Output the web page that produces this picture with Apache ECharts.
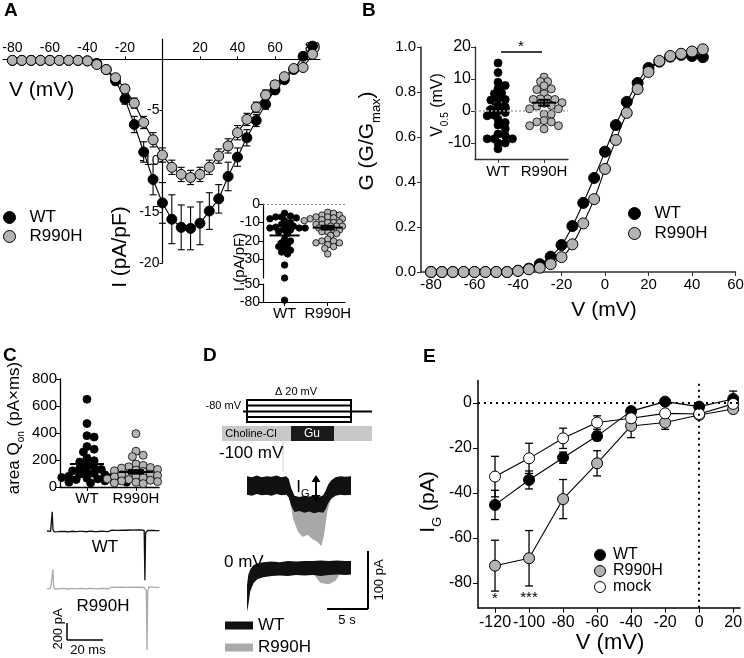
<!DOCTYPE html>
<html><head><meta charset="utf-8">
<script src="https://cdn.jsdelivr.net/npm/echarts@6/dist/echarts.min.js"></script>
<style>html,body{margin:0;padding:0;background:#fff}#c{width:744px;height:658px}</style>
</head><body><div id="c"></div>
<script>
// ---------------- DATA ----------------
// Panel A: I-V curves (pA/pF)
const vA = [-80,-75,-70,-65,-60,-55,-50,-45,-40,-35,-30,-25,-20,-15,-10,-5,0,5,10,15,20,25,30,35,40,45,50,55,60,65,70,75,80];
const iWT_A = [-0.1,-0.1,-0.1,-0.1,-0.1,-0.1,-0.1,-0.1,-0.15,-0.4,-1.0,-2.1,-3.9,-6.4,-9.1,-11.8,-14.1,-15.7,-16.5,-16.6,-16.1,-14.9,-13.7,-11.5,-9.6,-7.7,-6.0,-4.4,-3.0,-2.0,-1.0,0.3,1.3];
const eWT_A = [0.05,0.05,0.05,0.05,0.05,0.05,0.05,0.05,0.1,0.15,0.3,0.4,0.5,0.8,1.0,1.5,2.0,2.4,2.2,2.1,2.1,1.8,1.4,1.4,0.9,0.8,0.6,0.5,0.4,0.3,0.3,0.3,0.3];
const iR_A = [-0.1,-0.1,-0.1,-0.1,-0.1,-0.1,-0.1,-0.1,-0.15,-0.5,-1.0,-1.8,-2.9,-4.3,-6.2,-7.9,-9.4,-10.6,-11.3,-11.6,-11.3,-10.6,-9.5,-8.5,-7.2,-5.9,-4.7,-3.5,-2.5,-1.7,-0.9,-0.8,0.5];
const eR_A = [0.05,0.05,0.05,0.05,0.05,0.05,0.05,0.05,0.1,0.15,0.2,0.3,0.4,0.5,0.6,0.7,0.7,0.7,0.7,0.7,0.7,0.7,0.7,0.7,0.7,0.6,0.5,0.5,0.4,0.3,0.3,0.3,0.3];
// Panel A inset: peak current density per cell
const insWT_A = [-5,-6.5,-7,-7,-7.5,-8,-9,-10,-11,-12,-12,-12.5,-13,-13,-13,-14,-14,-15,-16,-19,-20,-21,-22,-23,-24,-25,-26,-27,-33,-40,-77];
const insR_A = [-4.5,-5,-6,-6,-7,-7,-7.5,-8,-8,-8.5,-9,-9,-10,-10,-10,-11,-11,-12,-12,-12,-13,-13,-14,-14,-15,-15,-16,-17,-19,-20,-20,-21,-21,-22,-23,-24,-27];
const insMean_A = [-17,-12.8];
const insSem_A = [3.5,1.0];
const groups = ['WT','R990H'];

// Panel B: conductance
const vB = [-80,-75,-70,-65,-60,-55,-50,-45,-40,-35,-30,-25,-20,-15,-10,-5,0,5,10,15,20,25,30,35,40,45];
const gWT_B = [0,0,0,0,0,0,0,0,0.006,0.015,0.035,0.068,0.12,0.204,0.307,0.418,0.535,0.653,0.756,0.84,0.907,0.935,0.957,0.965,0.96,0.955];
const gR_B = [0,0,0,0,0,0,0,0,0.005,0.012,0.019,0.035,0.066,0.123,0.216,0.324,0.458,0.587,0.707,0.813,0.889,0.938,0.96,0.97,0.98,0.99];
// Panel B inset: V0.5
const v05WT = [15,12,9,8,7,5.6,5.4,3.8,3.6,3.4,1.7,1.3,0.5,0,-0.5,-1.3,-1.5,-2.6,-3.6,-4.4,-5.6,-7.2,-7.7,-8.7,-8.7,-8.7,-10,-10,-11.8];
const v05R = [10.6,9.2,9.2,7.9,6.9,6.7,5.4,3.8,3.8,3.6,3.6,2.6,2.4,1.7,1.5,0.7,0.7,-1,-1,-3,-3.4,-3.4,-4.6,-4.6,-5.6];
const v05Mean = [0.8,2.6];
const v05Sem = [1.3,0.9];

// Panel C: gating charge area
const qWT = [650,470,380,370,300,280,260,215,195,185,160,150,140,130,120,110,100,95,90,80,75,70,65,60,55,50,45,40,35,35,30];
const qR = [395,265,235,225,170,160,150,145,140,130,125,120,115,110,100,95,90,85,80,75,70,65,60,55,50,45,40,35,30,25];
const qMean = [170,112];
const qSem = [26,13];
// Panel C traces (t ms, pA)
const traceWT_C = [[0,0],[1,5],[2,-5],[2.6,10],[2.9,225],[3.3,20],[4,-10],[5,5],[6,-8],[7,6],[8,-4],[9,8],[10,-6],[11,3],[12,-10],[13,6],[14,-3],[15,7],[16,-8],[17,4],[18,-5],[19,9],[20,-4],[21,6],[22,-9],[23,3],[24,-2],[25,8],[26,-6],[27,5],[28,-7],[29,4],[30,-3],[31,9],[32,-5],[33,6],[34,-8],[35,2],[36,10],[37,-4],[38,7],[39,-6],[40,8],[41,-2],[42,11],[43,-3],[44,9],[45,-1],[46,12],[47,3],[48,10],[49,-2],[50,14],[51,6],[52,12],[53,4],[54,8],[54.4,-580],[54.8,-20],[55.3,-10],[56,6],[57,-4],[58,8],[59,-3],[60,6],[61,-2],[62.5,4]];
const traceR_C = [[0,-8],[1,6],[2,-4],[3,12],[3.3,220],[3.7,15],[4.3,-12],[5,6],[6,-10],[7,8],[8,-6],[9,10],[10,-8],[11,4],[12,-12],[13,8],[14,-4],[15,9],[16,-10],[17,5],[18,-7],[19,10],[20,-5],[21,8],[22,-11],[23,4],[24,-3],[25,10],[26,-8],[27,6],[28,-9],[29,5],[30,-4],[31,11],[32,-6],[33,7],[34,-10],[35,3],[36,9],[37,-6],[38,8],[39,-8],[40,9],[41,-3],[42,10],[43,-5],[44,8],[45,-2],[46,10],[47,2],[48,9],[49,-4],[50,11],[51,4],[52,9],[53,2],[54,6],[55.2,-30],[55.6,-730],[56,-40],[56.6,12],[57.5,-6],[58.5,10],[59.5,-5],[60.5,8],[61.5,-4],[62.5,6]];
// Panel D traces: envelopes [t s, low pA, high pA]
const envWT_100 = [[0,-15,17],[0.6,-17,15],[1.2,-14,18],[1.8,-16,15],[2.4,-15,17],[3,-17,16],[3.6,-14,18],[4.2,-16,15],[4.8,-15,17],[5.1,-20,12],[5.4,-34,-4],[5.8,-45,-17],[6.4,-43,-19],[7,-46,-17],[7.6,-44,-18],[8.2,-47,-17],[8.8,-45,-19],[9.3,-46,-16],[9.6,-40,-8],[9.9,-30,2],[10.3,-22,10],[10.8,-17,15],[11.4,-15,17],[12,-16,16],[12.7,-15,17]];
const envR_100 = [[5.2,-22,-12],[5.6,-55,-20],[6.2,-78,-25],[6.8,-88,-28],[7.4,-84,-28],[8,-92,-28],[8.6,-96,-28],[9.1,-104,-26],[9.4,-85,-20],[9.8,-45,-10],[10.2,-22,0]];
const envWT_0 = [[0,-75,-30],[0.15,-65,-12],[0.4,-40,-2],[0.8,-26,5],[1.3,-19,8],[2,-16,10],[3,-14,11],[4,-13,10],[5,-14,12],[6,-12,11],[7,-13,12],[8,-12,12],[9,-14,13],[10,-12,12],[11,-11,13],[12,-12,12],[12.7,-11,12]];
const envR_0 = [[8.4,-16,-6],[9,-26,-8],[10,-28,-8],[10.8,-22,-8],[11.2,-14,-6]];

// Panel E: IG vs V
const vE = [-120,-100,-80,-60,-40,-20,0,20];
const iWT_E = [-45.3,-34.2,-24.3,-14.7,-3.6,0.6,-1.6,1.8];
const eWT_E = [6.5,4,2.5,2,1,1,1,3.5];
const iR_E = [-72.3,-69,-42.7,-26.8,-10.2,-8.7,-5.3,-2.7];
const eR_E = [11.3,12.3,8.7,5.6,5.2,3,1.5,1.5];
const iM_E = [-32.7,-24.6,-15.7,-8.7,-6.8,-4.6,-4.9,-0.4];
const eM_E = [9,6.7,4.5,3,1.5,1,1,2];

// Tick labels
const ticksA_x = [-80,-60,-40,-20,20,40,60,80];
const ticksA_y = [-5,-10,-15,-20];
const ticksAins_up = [0,-10,-20,-30];
const ticksAins_lo = [-50,-80];
const ticksB_x = [-80,-60,-40,-20,0,20,40,60];
const ticksBins_y = [20,10,0,-10];
const ticksE_x = [-120,-100,-80,-60,-40,-20,0,20];
const ticksE_y = [0,-20,-40,-60,-80];

// ---------------- HELPERS ----------------
const FONT = '"Liberation Sans", Arial, sans-serif';
const GRAY = '#b3b3b3';
const pairs = (xs, ys) => xs.map((x, i) => [x, ys[i]]);
const triples = (xs, ys, es) => xs.map((x, i) => [x, ys[i], es[i]]);

// beeswarm layout: spreads overlapping dots sideways around the group centre
function swarm(vals, center, xPx, yPx, d) {
  const placed = [], out = [];
  const sorted = vals.slice().sort((a, b) => b - a);
  const minD = d * 0.68;
  for (const v of sorted) {
    const py = v * yPx;
    let off = 0;
    for (let i = 0; i < 80; i++) {
      const k = Math.ceil(i / 2) * (i % 2 ? 1 : -1);
      const o = k * d * 0.45;
      if (placed.every(p => (p[0] - o) ** 2 + (p[1] - py) ** 2 >= minD * minD)) { off = o; break; }
    }
    placed.push([off, py]);
    out.push([center + off / xPx, v]);
  }
  return out;
}

function errSeries(gi, data, cap, lw) {
  return {
    type: 'custom', xAxisIndex: gi, yAxisIndex: gi, data, silent: true, z: 2,
    encode: { x: 0, y: 1 },
    renderItem(params, api) {
      const x = api.value(0), y = api.value(1), e = api.value(2);
      const a = api.coord([x, y + e]), b = api.coord([x, y - e]);
      const st = { stroke: '#000', lineWidth: lw || 1.2 };
      return { type: 'group', children: [
        { type: 'line', shape: { x1: a[0], y1: a[1], x2: b[0], y2: b[1] }, style: st },
        { type: 'line', shape: { x1: a[0] - cap / 2, y1: a[1], x2: a[0] + cap / 2, y2: a[1] }, style: st },
        { type: 'line', shape: { x1: b[0] - cap / 2, y1: b[1], x2: b[0] + cap / 2, y2: b[1] }, style: st }
      ]};
    }
  };
}

function meanSeries(gi, means, sems, wMean, wCap) {
  return {
    type: 'custom', xAxisIndex: gi, yAxisIndex: gi, silent: true, z: 5,
    data: triples([1, 2], means, sems), encode: { x: 0, y: 1 },
    renderItem(params, api) {
      const x = api.value(0), y = api.value(1), e = api.value(2);
      const m = api.coord([x, y]), a = api.coord([x, y + e]), b = api.coord([x, y - e]);
      const st = { stroke: '#000', lineWidth: 2 };
      return { type: 'group', children: [
        { type: 'line', shape: { x1: m[0] - wMean / 2, y1: m[1], x2: m[0] + wMean / 2, y2: m[1] }, style: st },
        { type: 'line', shape: { x1: a[0], y1: a[1], x2: b[0], y2: b[1] }, style: st },
        { type: 'line', shape: { x1: a[0] - wCap / 2, y1: a[1], x2: a[0] + wCap / 2, y2: a[1] }, style: st },
        { type: 'line', shape: { x1: b[0] - wCap / 2, y1: b[1], x2: b[0] + wCap / 2, y2: b[1] }, style: st }
      ]};
    }
  };
}

function lineSeries(name, gi, data, fill, size, smooth) {
  return { name, type: 'line', xAxisIndex: gi, yAxisIndex: gi, data, smooth: !!smooth,
    symbol: 'circle', symbolSize: size, showSymbol: true, z: 3,
    lineStyle: { color: '#000', width: 1.1 },
    itemStyle: { color: fill, borderColor: '#000', borderWidth: 1 },
    emphasis: { disabled: true } };
}

function dots(gi, data, fill, size) {
  return { type: 'scatter', xAxisIndex: gi, yAxisIndex: gi, data, symbolSize: size, z: 3,
    itemStyle: { color: fill, borderColor: '#000', borderWidth: 0.8, opacity: 1 },
    emphasis: { disabled: true } };
}

function bandSeries(gi, env, color, z) {
  return { type: 'custom', xAxisIndex: gi, yAxisIndex: gi, silent: true, z,
    data: [[env[0][0], env[0][1]]], encode: { x: 0, y: 1 },
    renderItem(params, api) {
      const top = env.map(p => api.coord([p[0], p[2]]));
      const bot = env.map(p => api.coord([p[0], p[1]])).reverse();
      return { type: 'polygon', shape: { points: top.concat(bot) }, style: { fill: color } };
    } };
}

function traceSeries(gi, data, color) {
  return { type: 'line', xAxisIndex: gi, yAxisIndex: gi, data, showSymbol: false, silent: true,
    lineStyle: { color, width: 1.3 }, z: 3 };
}

const lineAx = (c, w) => ({ show: true, onZero: false, lineStyle: { color: c || '#000', width: w || 1.3 } });
const lbl = (size, extra) => Object.assign({ fontSize: size, fontFamily: FONT, color: '#000' }, extra || {});
const groupFmt = v => (Math.abs(v - 1) < 1e-6 ? 'WT' : 'R990H');

// ---------------- LAYOUT ----------------
const G = (left, top, width, height) => ({ left, top, width, height, containLabel: false, outerBoundsMode: 'none' });
const grid = [
  G(3, 39, 317, 224),        // 0 A main
  G(263, 204, 82, 74),       // 1 A inset upper
  G(263, 284, 82, 18),       // 2 A inset lower
  G(421, 47, 314.5, 225),    // 3 B main
  G(475, 47, 93, 112),       // 4 B inset
  G(60, 379, 99, 108),       // 5 C dots
  G(47, 505.5, 113, 93.5),   // 6 C WT trace
  G(47, 562.5, 113, 93.5),   // 7 C R990H trace
  G(247, 471.5, 104, 78.3),  // 8 D -100 mV
  G(247, 559.3, 104, 52.2),  // 9 D 0 mV
  G(478, 380.5, 262, 227.25) // 10 E
];
// A main crosses at (0,0): x axis line moved down to y=0, y axis moved right to x=0
const A_XOFF = -(2 / 22) * 224;
const A_YOFF = -(85 / 169) * 317;

const hidden = (gi, min, max) => ({ gridIndex: gi, type: 'value', min, max, show: false });
const xAxis = [
  { gridIndex: 0, type: 'value', position: 'top', offset: A_XOFF, min: -85, max: 84, axisLine: lineAx('#000', 1.2),
    axisTick: { length: 3, customValues: ticksA_x }, axisLabel: lbl(14, { margin: 4, customValues: ticksA_x }), splitLine: { show: false } },
  hidden(1, 0.5, 2.4),
  { gridIndex: 2, type: 'value', min: 0.5, max: 2.4, axisLine: lineAx('#000', 1.2),
    axisTick: { length: 4, customValues: [1, 2] }, axisLabel: lbl(15, { margin: 4, customValues: [1, 2], formatter: groupFmt }), splitLine: { show: false } },
  { gridIndex: 3, type: 'value', min: -84.6, max: 60, axisLine: lineAx('#333', 1.6),
    axisTick: { length: 4, customValues: ticksB_x, lineStyle: { color: '#333' } }, axisLabel: lbl(15, { margin: 5, customValues: ticksB_x }), splitLine: { show: false } },
  { gridIndex: 4, type: 'value', min: 0.5, max: 2.52, axisLine: lineAx('#333', 1.4),
    axisTick: { length: 4, customValues: [1, 2] }, axisLabel: lbl(15, { margin: 5, customValues: [1, 2], formatter: groupFmt }), splitLine: { show: false } },
  { gridIndex: 5, type: 'value', min: 0.45, max: 2.47, axisLine: lineAx('#000', 1.3),
    axisTick: { length: 4, customValues: [1, 2] }, axisLabel: lbl(15, { margin: 4, customValues: [1, 2], formatter: groupFmt }), splitLine: { show: false } },
  hidden(6, 0, 62.8), hidden(7, 0, 62.8), hidden(8, 0, 12.7), hidden(9, 0, 12.7),
  { gridIndex: 10, type: 'value', min: -130, max: 24, axisLine: lineAx('#000', 1.5),
    axisTick: { length: 5, customValues: ticksE_x }, axisLabel: lbl(16, { margin: 7, customValues: ticksE_x }), splitLine: { show: false } }
];
const yAxis = [
  { gridIndex: 0, type: 'value', position: 'left', offset: A_YOFF, min: -20, max: 2, axisLine: lineAx('#000', 1.2),
    axisTick: { length: 3, customValues: ticksA_y }, axisLabel: lbl(14, { margin: 3, customValues: ticksA_y }), splitLine: { show: false } },
  { gridIndex: 1, type: 'value', min: -40, max: 0, axisLine: lineAx('#000', 1.2),
    axisTick: { length: 4, customValues: ticksAins_up }, axisLabel: lbl(14, { margin: 3, customValues: ticksAins_up }), splitLine: { show: false } },
  { gridIndex: 2, type: 'value', min: -80, max: -50, axisLine: lineAx('#000', 1.2),
    axisTick: { length: 4, customValues: ticksAins_lo }, axisLabel: lbl(14, { margin: 3, customValues: ticksAins_lo }), splitLine: { show: false } },
  { gridIndex: 3, type: 'value', min: 0, max: 1, interval: 0.2, axisLine: lineAx('#333', 1.6),
    axisTick: { show: true, length: 4, lineStyle: { color: '#333' } }, axisLabel: lbl(15, { margin: 5, formatter: v => v.toFixed(1) }), splitLine: { show: false } },
  { gridIndex: 4, type: 'value', min: -15, max: 20, axisLine: lineAx('#333', 1.4),
    axisTick: { length: 4, customValues: ticksBins_y }, axisLabel: lbl(16, { margin: 4, customValues: ticksBins_y }), splitLine: { show: false } },
  { gridIndex: 5, type: 'value', min: 0, max: 800, interval: 200, axisLine: lineAx('#000', 1.3),
    axisTick: { show: true, length: 4 }, axisLabel: lbl(15, { margin: 3 }), splitLine: { show: false } },
  hidden(6, -800, 300), hidden(7, -800, 300), hidden(8, -110, 25), hidden(9, -75, 15),
  { gridIndex: 10, type: 'value', min: -91, max: 10, axisLine: lineAx('#000', 1.5),
    axisTick: { length: 5, customValues: ticksE_y }, axisLabel: lbl(16, { margin: 6, customValues: ticksE_y }), splitLine: { show: false } }
];

// ---------------- SERIES ----------------
const series = [];
// A main
series.push(lineSeries('WT', 0, pairs(vA, iWT_A), '#000', 10));
series.push(lineSeries('R990H', 0, pairs(vA, iR_A), GRAY, 10));
series.push(errSeries(0, triples(vA, iWT_A, eWT_A), 7, 1.1));
series.push(errSeries(0, triples(vA, iR_A, eR_A), 7, 1.1));
// A inset
const wtUp = insWT_A.filter(v => v >= -45), wtLo = insWT_A.filter(v => v < -45);
const sA1 = dots(1, swarm(wtUp, 1, 43, 1.85, 6.5), '#000', 6.5);
sA1.markLine = { silent: true, symbol: 'none', label: { show: false },
  lineStyle: { color: '#888', type: [2, 2], width: 1 }, data: [{ yAxis: 0 }] };
series.push(sA1);
series.push(dots(1, swarm(insR_A, 2, 43, 1.85, 6.5), GRAY, 6.5));
series.push(dots(2, swarm(wtLo, 1, 43, 0.6, 6.5), '#000', 6.5));
series.push(meanSeries(1, insMean_A, insSem_A, 30, 14));
// B main
series.push(lineSeries('WT', 3, pairs(vB, gWT_B), '#000', 11, true));
series.push(lineSeries('R990H', 3, pairs(vB, gR_B), GRAY, 11, true));
// B inset
const sB1 = dots(4, swarm(v05WT, 1, 46, 3.2, 8), '#000', 8);
sB1.markLine = { silent: true, symbol: 'none', label: { show: false },
  lineStyle: { color: '#aaa', type: [2, 2], width: 1.5 }, data: [{ yAxis: 0 }] };
series.push(sB1);
series.push(dots(4, swarm(v05R, 2, 46, 3.2, 8), GRAY, 8));
series.push(meanSeries(4, v05Mean, v05Sem, 24, 12));
// C
series.push(dots(5, swarm(qWT, 1, 49, 0.135, 8), '#000', 8));
series.push(dots(5, swarm(qR, 2, 49, 0.135, 8), GRAY, 8));
series.push(meanSeries(5, qMean, qSem, 34, 16));
series.push(traceSeries(6, traceWT_C, '#111'));
series.push(traceSeries(7, traceR_C, '#aaa'));
// D
series.push(bandSeries(8, envR_100, '#a8a8a8', 2));
series.push(bandSeries(8, envWT_100, '#111', 3));
series.push(bandSeries(9, envR_0, '#a8a8a8', 2));
series.push(bandSeries(9, envWT_0, '#111', 3));
// E
const lE = lineSeries('WT', 10, pairs(vE, iWT_E), '#000', 11);
lE.markLine = { silent: true, symbol: 'none', label: { show: false },
  lineStyle: { color: '#000', type: [2, 4], width: 2 }, data: [{ yAxis: 0 }, { xAxis: 0 }] };
series.push(errSeries(10, triples(vE, iWT_E, eWT_E), 8, 1.3));
series.push(errSeries(10, triples(vE, iR_E, eR_E), 8, 1.3));
series.push(errSeries(10, triples(vE, iM_E, eM_E), 8, 1.3));
series.push(lE);
series.push(lineSeries('R990H', 10, pairs(vE, iR_E), GRAY, 11));
series.push(lineSeries('mock', 10, pairs(vE, iM_E), '#fff', 11));

// ---------------- LEGENDS ----------------
const circ = (name, color) => ({ name, icon: 'circle', itemStyle: { color, borderColor: '#000', borderWidth: 1 } });
const legend = [
  { left: 3, top: 209, padding: 0, orient: 'vertical', itemWidth: 30, itemHeight: 12, itemGap: 2, selectedMode: false,
    textStyle: lbl(17), data: [circ('WT', '#000'), circ('R990H', GRAY)] },
  { left: 628, top: 205, padding: 0, orient: 'vertical', itemWidth: 30, itemHeight: 12, itemGap: 3, selectedMode: false,
    textStyle: lbl(17), data: [circ('WT', '#000'), circ('R990H', GRAY)] },
  { left: 225, top: 617, padding: 0, orient: 'vertical', itemWidth: 28, itemHeight: 8, itemGap: 5, selectedMode: false,
    textStyle: lbl(17), data: [
      { name: 'WT', icon: 'rect', itemStyle: { color: '#111', borderWidth: 0 } },
      { name: 'R990H', icon: 'rect', itemStyle: { color: '#aaa', borderWidth: 0 } }] },
  { left: 594, top: 547, padding: 0, orient: 'vertical', itemWidth: 16, itemHeight: 11, itemGap: 0, selectedMode: false,
    textStyle: lbl(16), data: [circ('WT', '#000'), circ('R990H', GRAY), circ('mock', '#fff')] }
];

// ---------------- GRAPHIC ANNOTATIONS ----------------
const T = (text, x, y, size, o) => {
  o = o || {};
  return { type: 'text', x, y, rotation: o.rot || 0, silent: true, z: 100,
    style: { text, font: (o.bold ? 'bold ' : '') + size + 'px ' + FONT, fill: o.color || '#000',
      align: o.align || 'center', verticalAlign: 'middle' } };
};
const RT = (text, x, y, size, sub, o) => {
  o = o || {};
  return { type: 'text', x, y, rotation: o.rot || 0, silent: true, z: 100,
    style: { text, font: size + 'px ' + FONT, fill: '#000', align: o.align || 'center', verticalAlign: 'middle',
      rich: { m: { fontSize: size, fontFamily: FONT, verticalAlign: 'bottom', padding: [0, 0, Math.round(size * 0.22), 0] },
              s: { fontSize: sub, fontFamily: FONT, verticalAlign: 'bottom' } } } };
};
const L = (x1, y1, x2, y2, w, c) => ({ type: 'line', silent: true, z: 100, shape: { x1, y1, x2, y2 }, style: { stroke: c || '#000', lineWidth: w || 1.5 } });
const R = (x, y, w, h, fill, stroke) => ({ type: 'rect', silent: true, z: 90, shape: { x, y, width: w, height: h },
  style: { fill: fill || 'none', stroke: stroke || null, lineWidth: stroke ? 2 : 0 } });
const P = (pts) => ({ type: 'polygon', silent: true, z: 100, shape: { points: pts }, style: { fill: '#000' } });

const graphic = [
  // panel letters
  T('A', 4, 11, 19, { bold: true, align: 'left' }),
  T('B', 362, 11, 19, { bold: true, align: 'left' }),
  T('C', 3, 356, 19, { bold: true, align: 'left' }),
  T('D', 203, 356, 19, { bold: true, align: 'left' }),
  T('E', 423, 357, 19, { bold: true, align: 'left' }),
  // A titles
  T('V (mV)', 9, 90, 21, { align: 'left' }),
  T('I (pA/pF)', 120, 247, 21, { rot: Math.PI / 2 }),
  T('I (pA/pF)', 240, 262, 15, { rot: Math.PI / 2 }),
  // B titles
  RT('{m|G (G/G}{s|max}{m|)}', 370, 141, 21, 13, { rot: Math.PI / 2 }),
  T('V (mV)', 604, 310, 21),
  RT('{m|V}{s|0.5}{m| (mV)}', 440, 105, 16, 10, { rot: Math.PI / 2 }),
  L(501, 52, 542, 52, 1.3),
  T('*', 521, 47, 15),
  // C titles
  RT('{m|area Q}{s|on}{m| (pA×ms)}', 16, 428, 17, 10, { rot: Math.PI / 2 }),
  T('WT', 105, 547, 17),
  T('R990H', 103, 606, 17),
  L(67, 623, 67, 640, 1.5), L(67, 640, 103, 640, 1.5),
  T('200 pA', 58, 629, 13, { rot: Math.PI / 2 }),
  T('20 ms', 88, 650, 13),
  // D protocol
  T('-80 mV', 241, 406, 11, { align: 'right' }),
  T('Δ 20 mV', 296, 392, 11),
  L(243, 411.5, 372, 411.5, 2),
  R(247, 400, 104, 22, 'none', '#000'),
  L(247, 405.5, 351, 405.5, 2), L(247, 417, 351, 417, 2),
  R(222, 426, 150, 15, '#c8c8c8'),
  R(291, 426, 43, 15, '#1a1a1a'),
  T('Choline-Cl', 251, 434, 11),
  T('Gu', 312, 434, 12, { color: '#fff' }),
  L(283, 441, 283, 472, 1, '#cfcfcf'),
  T('-100 mV', 219, 453, 17, { align: 'left' }),
  RT('{m|I}{s|G}', 303, 489, 17, 11, { align: 'center' }),
  L(316, 480, 316, 497, 2),
  P([[316, 475], [311.5, 482], [320.5, 482]]),
  P([[316, 502], [311.5, 495], [320.5, 495]]),
  T('0 mV', 224, 562, 17, { align: 'left' }),
  L(368, 551, 368, 609, 2), L(327, 609, 368, 609, 2),
  T('100 pA', 379, 580, 13, { rot: Math.PI / 2 }),
  T('5 s', 347, 620, 13),
  // E titles
  RT('{m|I}{s|G}{m| (pA)}', 431, 502, 21, 13, { rot: Math.PI / 2 }),
  T('V (mV)', 610, 643, 22),
  T('*', 495, 599, 15),
  T('***', 529, 598, 15)
];

const chart = echarts.init(document.getElementById('c'), null, { renderer: 'canvas', width: 744, height: 658 });
chart.setOption({
  animation: false,
  backgroundColor: '#fff',
  textStyle: { fontFamily: FONT },
  grid, xAxis, yAxis, series, legend, graphic
});
</script></body></html>
